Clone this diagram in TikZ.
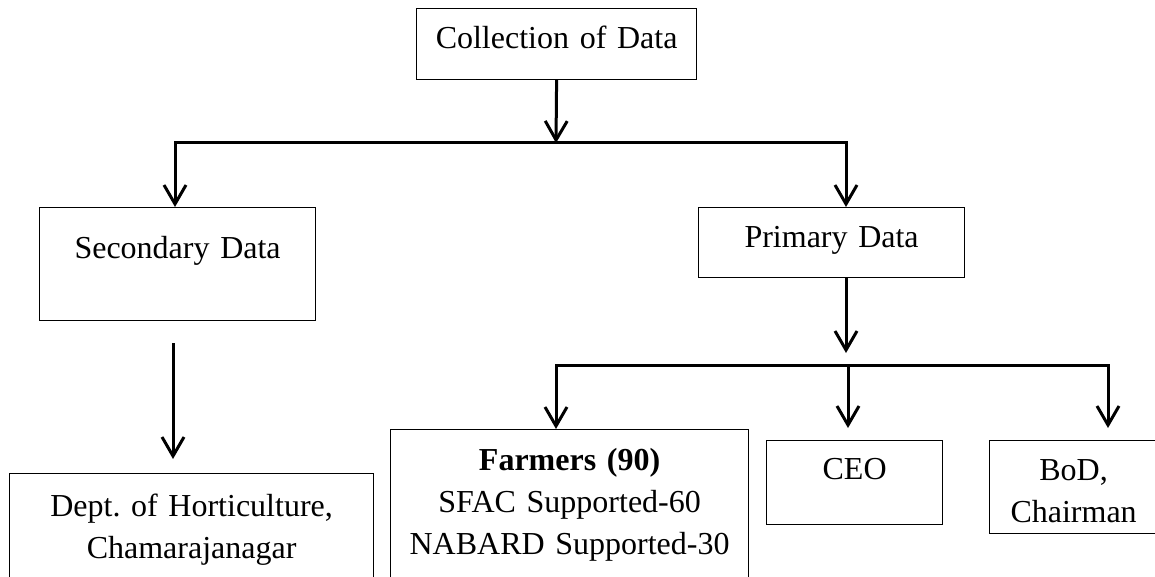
\documentclass[tikz,border=0pt]{standalone}
\usepackage{fontspec}
\setmainfont{Liberation Serif}
\usetikzlibrary{arrows.meta}
\frenchspacing
\tikzset{
  box/.style={draw=black, line width=0.6pt, rectangle, inner sep=0pt, anchor=north west,
    align=center, font=\fontsize{16}{21}\selectfont},
  conn/.style={line width=1.5pt, line join=miter},
  arr/.style={conn, -{Straight Barb[length=9.5pt,width=11pt]}},
}
\begin{document}
\begin{tikzpicture}[x=0.5pt, y=-0.5pt]
\useasboundingbox (0,0) rectangle (1155,577);
\clip (0,0) rectangle (1155,577);
% boxes
\node[box, text width=140pt, text height=20pt, text depth=15.5pt] (coll) at (416,8) {Collection of Data};
\node[box, text width=138pt, text height=25.5pt, text depth=31pt] (sec) at (39,207) {Secondary Data};
\node[box, text width=133pt, text height=20pt, text depth=15pt] (prim) at (698,207) {Primary Data};
\node[box, text width=182pt, text height=21.5pt, text depth=42pt] (dept) at (9,473) {Dept. of Horticulture,\\Chamarajanagar};
\node[box, text width=179pt, text height=20.5pt, text depth=65pt] (farm) at (390,429) {\textbf{Farmers (90)}\\SFAC Supported-60\\NABARD Supported-30};
\node[box, text width=88pt, text height=19.5pt, text depth=22.5pt] (ceo) at (766,440) {CEO};
\node[box, text width=84pt, text height=20pt, text depth=26.5pt] (bod) at (989,440) {BoD,\\Chairman};
% junction coordinates
\coordinate (j1) at (556,143);
\coordinate (lb) at (175,143);
\coordinate (rb) at (846,143);
\coordinate (j2tip) at (846,353);
\coordinate (fl) at (556,365);
\coordinate (j2) at (848,365);
\coordinate (fr) at (1108,365);
\coordinate (ceotip) at (848,428);
\coordinate (bodtip) at (1108,428);
\coordinate (s1) at (173,343);
\coordinate (s2) at (173,459);
% connectors
\draw[arr] (coll.south) -- (j1);
\draw[arr] (rb) -- (lb) -- (lb |- sec.north);
\draw[arr] (lb) -- (rb) -- (rb |- prim.north);
\draw[arr] (prim.south -| rb) -- (j2tip);
\draw[arr] (fr) -- (fl) -- (fl |- farm.north);
\draw[arr] (j2) -- (ceotip);
\draw[arr] (fl) -- (fr) -- (bodtip);
\draw[arr] (s1) -- (s2);
\end{tikzpicture}
\end{document}
